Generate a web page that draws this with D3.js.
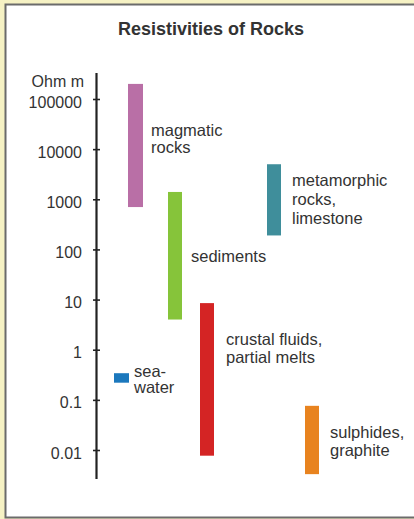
<!DOCTYPE html>
<html>
<head>
<meta charset="utf-8">
<script src="https://cdn.jsdelivr.net/npm/d3@7"></script>
<style>
  html, body { margin: 0; padding: 0; background: #fff; }
  svg { display: block; font-family: "Liberation Sans", Arial, sans-serif; }
</style>
</head>
<body>
<svg width="414" height="519"></svg>
<script>
// rock groups and their resistivity range (Ohm m)
const rocks = ['magmatic', 'sediments', 'crustal', 'metamorphic', 'sulphides', 'seawater']
const lows = [700, 4, 0.0077, 190, 0.0033, 0.22]
const highs = [200000, 1400, 8.5, 5000, 0.076, 0.34]
const labels = [
  ['magmatic', 'rocks'],
  ['sediments'],
  ['crustal fluids,', 'partial melts'],
  ['metamorphic', 'rocks,', 'limestone'],
  ['sulphides,', 'graphite'],
  ['sea-', 'water']
]
const colors = ['#b96fa6', '#86c43a', '#d42424', '#3f8e9b', '#e8831f', '#1b78bd']
const tickValues = [0.01, 0.1, 1, 10, 100, 1000, 10000, 100000]
const tickLabels = ['0.01', '0.1', '1', '10', '100', '1000', '10000', '100000']

const svg = d3.select('svg')
const width = +svg.attr('width')
const height = +svg.attr('height')

// frame
svg.append('rect').attr('width', width).attr('height', height).attr('fill', '#f6f2c4')
svg.append('rect').attr('x', 5).attr('y', 4).attr('width', width - 5).attr('height', 513)
  .attr('fill', '#fff')
svg.append('path').attr('d', `M${width},4.5H5.5V517.5H${width}`)
  .attr('fill', 'none').attr('stroke', '#6b6b6b').attr('stroke-width', 2)

svg.append('text').attr('x', 211).attr('y', 35).attr('text-anchor', 'middle')
  .attr('font-weight', 'bold').attr('font-size', 18).attr('fill', '#333')
  .text('Resistivities of Rocks')

const y = d3.scaleLog().domain([0.01, 100000]).range([450, 99])

// left edge and width of each bar
const x = d3.scaleOrdinal().domain(rocks).range([128, 168, 200, 267, 305, 114])
const barW = d3.scaleOrdinal().domain(rocks).range([15, 14, 14, 14, 14, 15])

const axisX = 96.5
svg.append('line').attr('x1', axisX).attr('x2', axisX).attr('y1', 73).attr('y2', 479)
  .attr('stroke', '#222').attr('stroke-width', 2.2)

const axis = d3.axisLeft(y).tickValues(tickValues)
  .tickFormat((d, i) => tickLabels[i]).tickSize(3).tickPadding(11.5)
const gAxis = svg.append('g').attr('transform', `translate(${axisX},0)`).call(axis)
gAxis.select('.domain').remove()
gAxis.attr('font-size', null).attr('font-family', null)
gAxis.selectAll('.tick line').attr('x1', -3.5).attr('x2', 3.5)
  .attr('stroke', '#222').attr('stroke-width', 1.6)
gAxis.selectAll('.tick text').style('font-size', '16px').attr('fill', '#333')
  .attr('dy', '0.5em')

svg.append('text').attr('x', 84).attr('y', 86.5).attr('text-anchor', 'end')
  .style('font-size', '16px').attr('fill', '#333').text('Ohm m')

const data = rocks.map((r, i) => ({ name: r, lo: lows[i], hi: highs[i], color: colors[i], label: labels[i] }))

svg.append('g').selectAll('rect').data(data).enter().append('rect')
  .attr('x', d => x(d.name))
  .attr('y', d => y(d.hi))
  .attr('width', d => barW(d.name))
  .attr('height', d => y(d.lo) - y(d.hi))
  .attr('fill', d => d.color)

// label anchors: value where the first label line sits
const labelAt = [18000, 56, 1.24, 1800, 0.0173, 0.29]
const labelDx = [8, 9, 12, 11, 11, 5]
const lineH = [17, 18, 17.7, 18.7, 17.6, 16.6]

const lab = svg.append('g').selectAll('text').data(data).enter().append('text')
  .style('font-size', '16.5px').attr('fill', '#333')
  .attr('transform', (d, i) => `translate(${x(d.name) + barW(d.name) + labelDx[i]},${y(labelAt[i])})`)
lab.each(function (d, i) {
  d3.select(this).selectAll('tspan').data(d.label).enter().append('tspan')
    .attr('x', 0).attr('y', (t, j) => j * lineH[i]).text(t => t)
})
</script>
</body>
</html>
